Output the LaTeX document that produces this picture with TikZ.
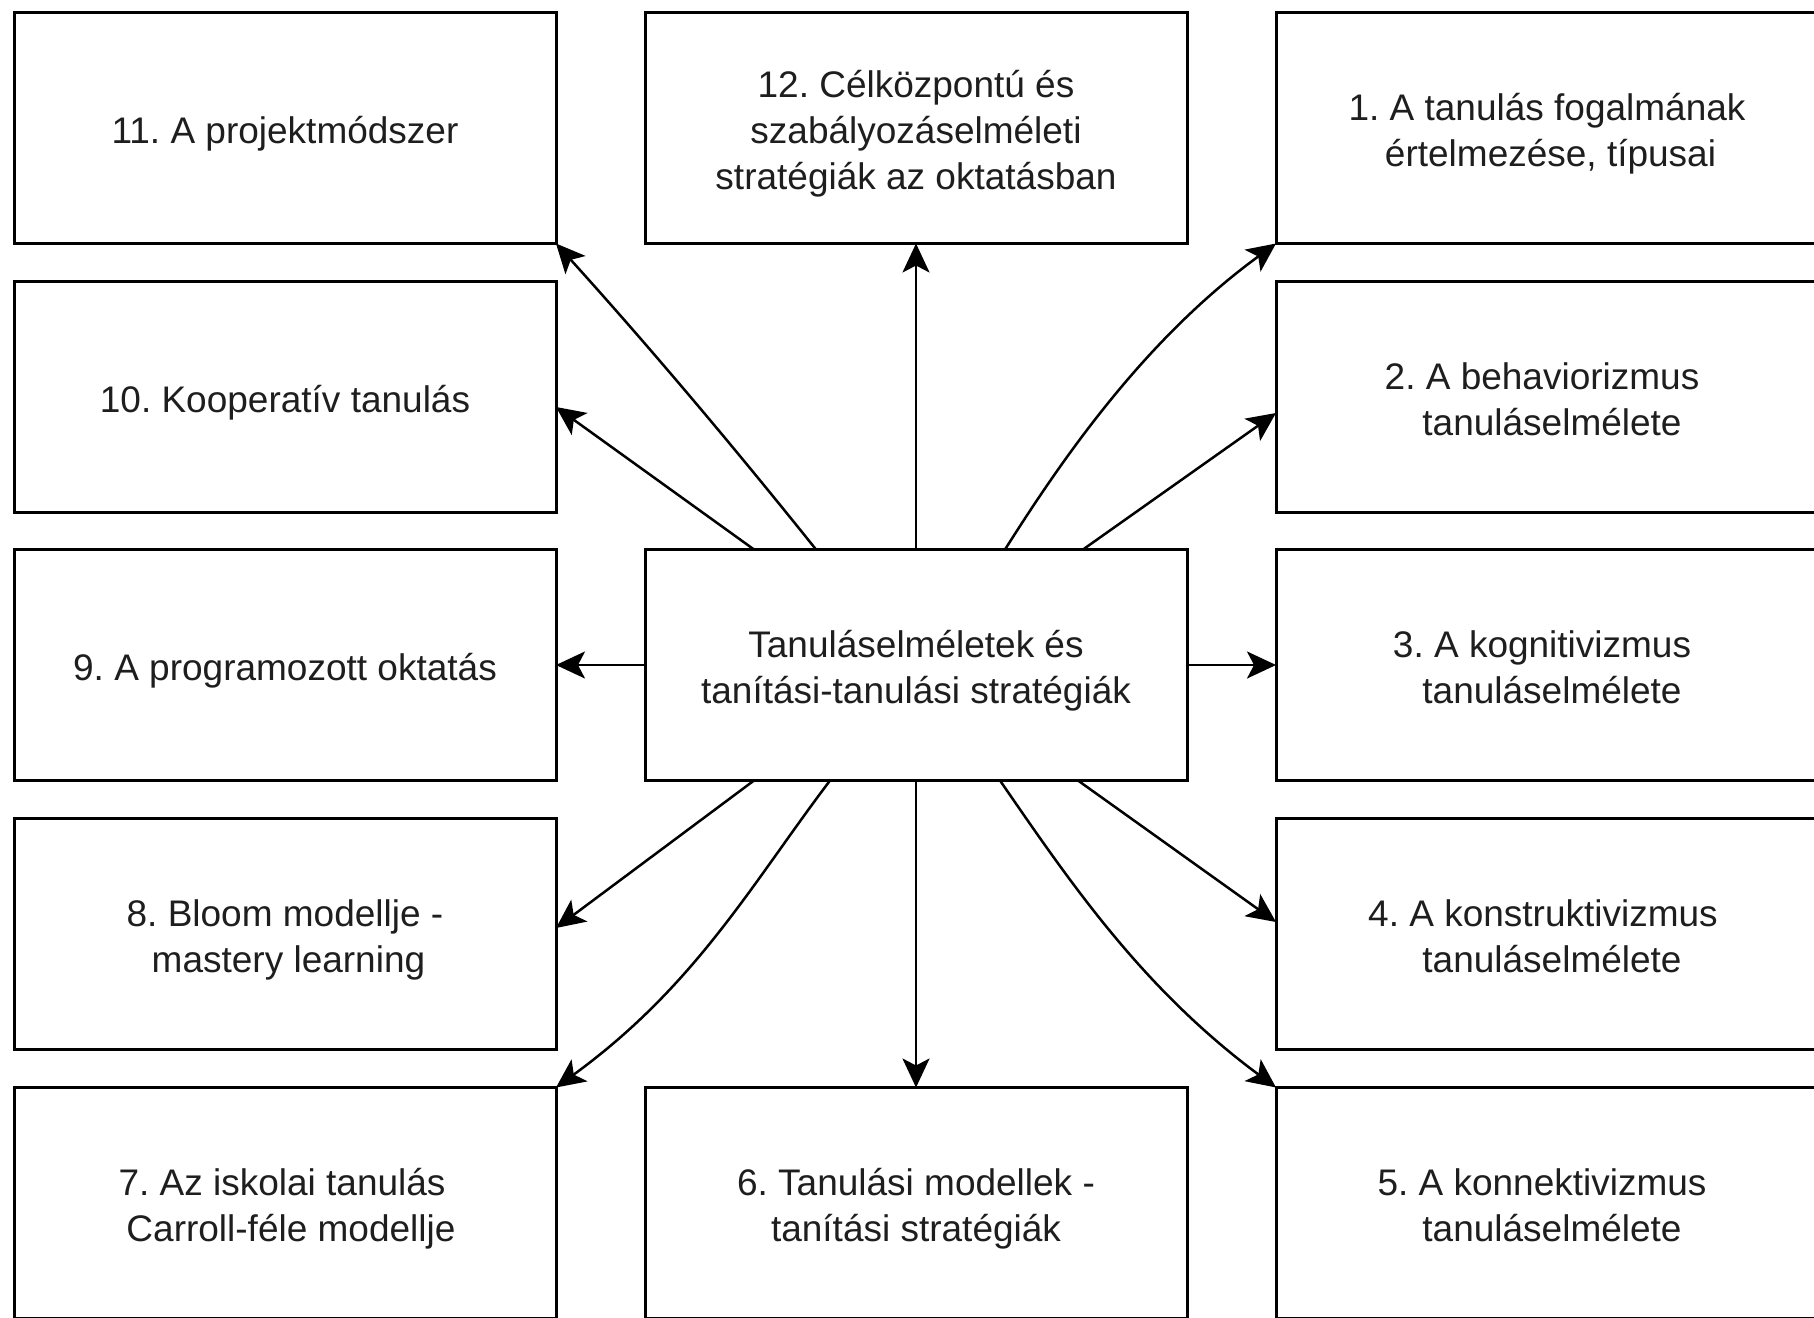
\documentclass[tikz,border=0pt]{standalone}
\usepackage{fontspec}
\setmainfont{Liberation Sans}
\usetikzlibrary{arrows.meta}
\definecolor{txt}{HTML}{1E1E1E}
\newcommand\firstln{\rule{0pt}{40pt}}
\begin{document}
\begin{tikzpicture}[x=1pt,y=-1pt,
  box/.style={draw=black, line width=3pt, rectangle, minimum width=542pt,
    minimum height=231pt, inner sep=0pt, outer sep=0pt, align=center,
    text=txt, font=\fontsize{37}{46}\selectfont\frenchspacing,
    execute at begin node={\rule{0pt}{40pt}},
    execute at end node={\rule[-10pt]{0pt}{10pt}}},
  conn/.style={draw=black, line width=2.5pt,
    -{Stealth[length=29pt,width=27pt,inset=7pt]}}]
\useasboundingbox (0,0) rectangle (1814,1317);
\begin{scope}
\clip (0,0) rectangle (1814,1317);
\fill[white] (0,0) rectangle (1814,1317);
\node[box] (c) at (916,665) {\firstln Tanuláselméletek és\\tanítási-tanulási stratégiák};
\node[box] (n11) at (285,128) {11. A projektmódszer};
\node[box] (n12) at (916,128) {\firstln 12. Célközpontú és\\szabályozáselméleti\\stratégiák az oktatásban};
\node[box] (n1) at (1547,128) {\firstln 1. A tanulás fogalmának\\\kern7pt értelmezése, típusai};
\node[box] (n10) at (285,397) {10. Kooperatív tanulás};
\node[box] (n2) at (1547,397) {\firstln 2. A behaviorizmus\kern10pt\\\kern10pt tanuláselmélete};
\node[box] (n9) at (285,665) {9. A programozott oktatás};
\node[box] (n3) at (1547,665) {\firstln 3. A kognitivizmus\kern10pt\\\kern10pt tanuláselmélete};
\node[box] (n8) at (285,934) {\firstln 8. Bloom modellje -\\\kern7pt mastery learning};
\node[box] (n4) at (1547,934) {\firstln 4. A konstruktivizmus\kern8pt\\\kern10pt tanuláselmélete};
\node[box] (n7) at (285,1203) {\firstln 7. Az iskolai tanulás\kern6pt\\\kern12pt Carroll-féle modellje};
\node[box] (n6) at (916,1203) {\firstln 6. Tanulási modellek -\\tanítási stratégiák};
\node[box] (n5) at (1547,1203) {\firstln 5. A konnektivizmus\kern10pt\\\kern10pt tanuláselmélete};

\draw[conn] (c.north) -- (n12.south);
\draw[conn] (c.south) -- (n6.north);
\draw[conn] (c.west) -- (n9.east);
\draw[conn] (c.east) -- (n3.west);
\draw[conn] ([xshift=-162pt]c.north) -- ([yshift=-10pt]n10.east);
\draw[conn] ([xshift=-100pt]c.north) .. controls +(-80,-100) and +(95,105) .. (n11.south east);
\draw[conn] ([xshift=89pt]c.north) .. controls +(60,-95) and +(-130,95) .. (n1.south west);
\draw[conn] ([xshift=167pt]c.north) -- ([yshift=-16pt]n2.west);
\draw[conn] ([xshift=-162pt]c.south) -- ([yshift=6pt]n8.east);
\draw[conn] ([xshift=-86pt]c.south) .. controls +(-78,103) and +(140,-102) .. (n7.north east);
\draw[conn] ([xshift=162pt]c.south) -- ([yshift=12pt]n4.west);
\draw[conn] ([xshift=84pt]c.south) .. controls +(69,100) and +(-135,-100) .. (n5.north west);
\end{scope}
\end{tikzpicture}
\end{document}
